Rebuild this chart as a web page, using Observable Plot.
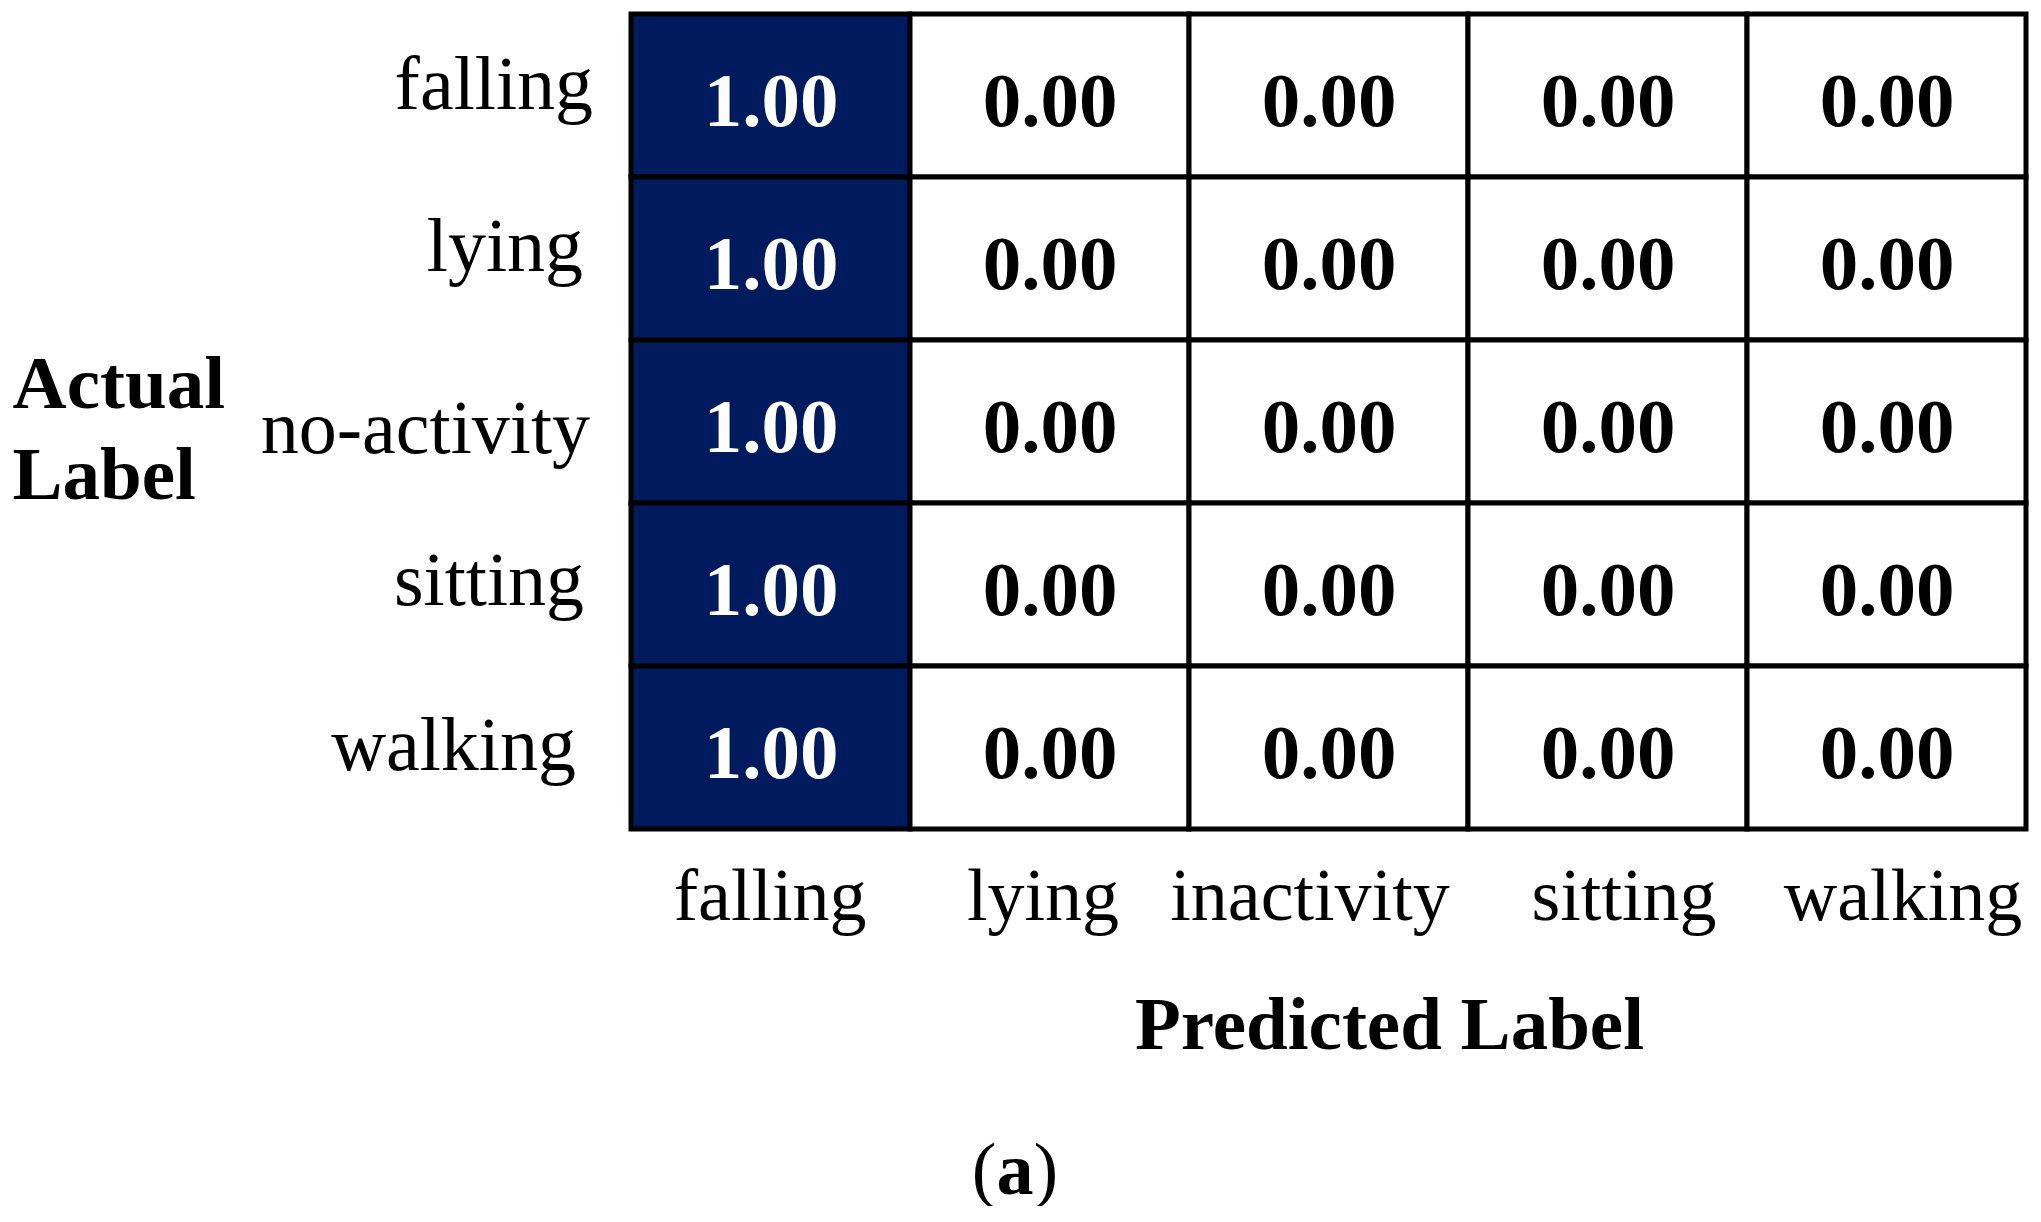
<!DOCTYPE html>
<html>
<head>
<meta charset="utf-8">
<script src="https://cdn.jsdelivr.net/npm/d3@7"></script>
<script src="https://cdn.jsdelivr.net/npm/@observablehq/plot@0.6"></script>
<style>
html, body { margin: 0; padding: 0; background: #fff; }
#chart svg { display: block; }
#caption {
  font-family: "Liberation Serif", "Times New Roman", serif;
  font-size: 74px;
  line-height: 74px;
  width: 2030px;
  text-align: center;
  color: #000;
}
</style>
</head>
<body>
<div id="chart"></div>
<div id="caption">(<b>a</b>)</div>
<script>
// Categories
const predictedLabels = ["falling", "lying", "inactivity", "sitting", "walking"];
const actualLabels = ["falling", "lying", "no-activity", "sitting", "walking"];
// Confusion matrix values (rows = actual, columns = predicted)
const matrix = [
  [1.00, 0.00, 0.00, 0.00, 0.00],
  [1.00, 0.00, 0.00, 0.00, 0.00],
  [1.00, 0.00, 0.00, 0.00, 0.00],
  [1.00, 0.00, 0.00, 0.00, 0.00],
  [1.00, 0.00, 0.00, 0.00, 0.00]
];
const xTitle = "Predicted Label";
const yTitleLines = ["Actual", "Label"];

const data = [];
actualLabels.forEach((a, i) => {
  predictedLabels.forEach((p, j) => {
    data.push({actual: a, predicted: p, value: matrix[i][j]});
  });
});

const FONT = "Liberation Serif";

// Typographic nudges of individual tick labels (style only, as in the original figure)
const xTickNudge = [-1, -7, -19, 16, 16];
const yTickNudgeX = [4, -6, 1, -5, -13];
const yTickNudgeY = [-11, -12, 7, -4, -2];

const xAxes = predictedLabels.map((lab, j) =>
  Plot.axisX([lab], {anchor: "bottom", tickSize: 0, tickPadding: 38, fontSize: 74,
    fontFamily: FONT, label: null, dx: xTickNudge[j]}));
const yAxes = actualLabels.map((lab, i) =>
  Plot.axisY([lab], {anchor: "left", tickSize: 0, tickPadding: 41, fontSize: 76,
    fontFamily: FONT, label: null, dx: yTickNudgeX[i], dy: yTickNudgeY[i]}));

const chart = Plot.plot({
  width: 2041,
  height: 1132,
  marginLeft: 629.5,
  marginRight: 13.5,
  marginTop: 13.5,
  marginBottom: 303.5,
  style: {fontFamily: FONT, background: "white", color: "black"},
  x: {domain: predictedLabels, padding: 0},
  y: {domain: actualLabels, padding: 0},
  color: {type: "linear", domain: [0, 1], range: ["#ffffff", "#001A5E"]},
  marks: [
    Plot.cell(data, {x: "predicted", y: "actual", fill: "value", stroke: "black", strokeWidth: 5}),
    Plot.text(data.filter(d => d.value > 0.5), {
      x: "predicted", y: "actual", text: d => d.value.toFixed(2),
      fill: "white", fontWeight: "bold", fontSize: 77, fontFamily: FONT, dy: 5
    }),
    Plot.text(data.filter(d => d.value <= 0.5), {
      x: "predicted", y: "actual", text: d => d.value.toFixed(2),
      fill: "black", fontWeight: "bold", fontSize: 77, fontFamily: FONT, dy: 5
    }),
    ...xAxes,
    ...yAxes,
    Plot.text([xTitle], {
      frameAnchor: "bottom", text: d => d, dx: 60.5, dy: 220,
      fontSize: 75, fontWeight: "bold", fontFamily: FONT, fill: "black"
    }),
    Plot.text([yTitleLines[0]], {
      frameAnchor: "left", textAnchor: "start", text: d => d, dx: -617.5, dy: -38,
      fontSize: 75, fontWeight: "bold", fontFamily: FONT, fill: "black"
    }),
    Plot.text([yTitleLines[1]], {
      frameAnchor: "left", textAnchor: "start", text: d => d, dx: -617.5, dy: 53,
      fontSize: 75, fontWeight: "bold", fontFamily: FONT, fill: "black"
    })
  ]
});

document.getElementById("chart").appendChild(chart);
</script>
</body>
</html>
